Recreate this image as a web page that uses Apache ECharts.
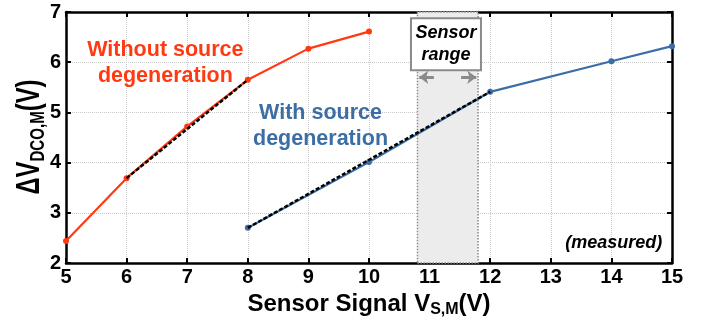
<!DOCTYPE html>
<html>
<head>
<meta charset="utf-8">
<script src="https://cdn.jsdelivr.net/npm/echarts@6/dist/echarts.min.js"></script>
<style>
  html, body { margin: 0; padding: 0; background: #fff; }
  #chart { width: 711px; height: 326px; }
</style>
</head>
<body>
<div id="chart"></div>
<script>
// Measured DCO output swing vs. sensor signal
const xTicks = [5, 6, 7, 8, 9, 10, 11, 12, 13, 14, 15];
const yTicks = [2, 3, 4, 5, 6, 7];

const withoutX = [5, 6, 7, 8, 9, 10];
const withoutY = [2.44, 3.69, 4.72, 5.65, 6.27, 6.61];

const withX = [8, 10, 12, 14, 15];
const withY = [2.70, 4.01, 5.41, 6.02, 6.32];

// linear-fit segments (dashed)
const fitWithoutX = [6, 8];
const fitWithoutY = [3.69, 5.65];
const fitWithX = [8, 12];
const fitWithY = [2.70, 5.41];

// sensor operating range on the x axis
const sensorRange = [10.8, 11.8];
const rangeArrowY = 5.70;

const RED = '#ff3a12';
const BLUE = '#3b6ea6';
const FONT = '"Liberation Sans", Arial, sans-serif';

const pairs = (xs, ys) => xs.map((x, i) => [x, ys[i]]);

const chart = echarts.init(document.getElementById('chart'), null, { renderer: 'canvas' });

const tickStyle = { inside: true, length: 5, lineStyle: { color: '#000', width: 2 } };
const lineStyleAxis = { lineStyle: { color: '#000', width: 2.5 } };
const gridLines = { show: true, lineStyle: { color: '#c8c8c8', type: 'dotted', width: 1 } };

chart.setOption({
  animation: false,
  backgroundColor: '#fff',
  grid: { left: 66, right: 39, top: 12, bottom: 63 },
  xAxis: [{
    type: 'value',
    min: xTicks[0], max: xTicks[xTicks.length - 1], interval: 1,
    name: 'Sensor Signal V{sub|S,M}(V)',
    nameLocation: 'middle',
    nameGap: 26,
    nameTextStyle: {
      fontFamily: FONT, fontWeight: 'bold', fontSize: 24, color: '#000',
      rich: { sub: { fontFamily: FONT, fontWeight: 'bold', fontSize: 16, color: '#000', verticalAlign: 'bottom', padding: [12, 0, 0, 0] } }
    },
    axisLine: lineStyleAxis,
    axisTick: tickStyle,
    axisLabel: { fontFamily: FONT, fontWeight: 'bold', fontSize: 20, color: '#000', margin: 4 },
    splitLine: gridLines
  }, {
    type: 'value', position: 'top',
    min: xTicks[0], max: xTicks[xTicks.length - 1], interval: 1,
    axisLine: lineStyleAxis,
    axisTick: tickStyle,
    axisLabel: { show: false },
    splitLine: { show: false }
  }],
  yAxis: [{
    type: 'value',
    min: yTicks[0], max: yTicks[yTicks.length - 1], interval: 1,
    axisLine: lineStyleAxis,
    axisTick: tickStyle,
    axisLabel: { fontFamily: FONT, fontWeight: 'bold', fontSize: 20, color: '#000', margin: 5 },
    splitLine: gridLines
  }, {
    type: 'value', position: 'right',
    min: yTicks[0], max: yTicks[yTicks.length - 1], interval: 1,
    axisLine: lineStyleAxis,
    axisTick: tickStyle,
    axisLabel: { show: false },
    splitLine: { show: false }
  }],
  // y-axis title: tall, narrow lettering
  graphic: [{
    type: 'text',
    x: 30, y: 137,
    rotation: Math.PI / 2,
    scaleX: 0.72,
    style: {
      text: 'ΔV{sub|DCO,M}(V)',
      align: 'center', verticalAlign: 'middle',
      fontFamily: FONT, fontWeight: 'bold', fontSize: 33, fill: '#000',
      rich: { sub: { fontFamily: FONT, fontWeight: 'bold', fontSize: 21, fill: '#000', verticalAlign: 'bottom', padding: [16, 0, 0, 0] } }
    }
  }],
  series: [
    {
      name: 'range',
      type: 'line',
      data: [],
      silent: true,
      markArea: {
        silent: true,
        itemStyle: { color: '#ececec', borderColor: '#8a8a8a', borderType: 'dotted', borderWidth: 1.5 },
        data: [[{ xAxis: sensorRange[0] }, { xAxis: sensorRange[1] }]]
      },
      markLine: {
        silent: true,
        symbol: ['none', 'arrow'],
        symbolSize: [10, 9],
        label: { show: false },
        lineStyle: { color: '#8a8a8a', type: 'solid', width: 3 },
        data: [
          [{ coord: [11.07, rangeArrowY] }, { coord: [sensorRange[0] + 0.03, rangeArrowY] }],
          [{ coord: [11.52, rangeArrowY] }, { coord: [sensorRange[1] - 0.03, rangeArrowY] }]
        ]
      },
      z: 1
    },
    {
      name: 'Without source degeneration',
      type: 'line',
      data: pairs(withoutX, withoutY),
      symbol: 'circle', symbolSize: 6,
      lineStyle: { color: RED, width: 2.2 },
      itemStyle: { color: RED },
      z: 3
    },
    {
      name: 'With source degeneration',
      type: 'line',
      data: pairs(withX, withY),
      symbol: 'circle', symbolSize: 6,
      lineStyle: { color: BLUE, width: 2.2 },
      itemStyle: { color: BLUE },
      z: 3
    },
    {
      type: 'line',
      data: pairs(fitWithoutX, fitWithoutY),
      symbol: 'none',
      lineStyle: { color: '#000', type: [4, 2], width: 2.5 },
      z: 4
    },
    {
      type: 'line',
      data: pairs(fitWithX, fitWithY),
      symbol: 'none',
      lineStyle: { color: '#000', type: [4, 2], width: 2.5 },
      z: 4
    },
    {
      // text annotations anchored at data coordinates
      type: 'scatter',
      symbolSize: 0,
      silent: true,
      itemStyle: { opacity: 1 },
      z: 6,
      data: [
        {
          value: [6.64, 5.99],
          label: {
            show: true, position: 'inside', formatter: 'Without source\ndegeneration',
            fontFamily: FONT, fontWeight: 'bold', fontSize: 21.5, lineHeight: 26, color: RED, align: 'center'
          }
        },
        {
          value: [9.20, 4.73],
          label: {
            show: true, position: 'inside', formatter: 'With source\ndegeneration',
            fontFamily: FONT, fontWeight: 'bold', fontSize: 21.5, lineHeight: 26, color: BLUE, align: 'center'
          }
        },
        {
          value: [14.04, 2.40],
          label: {
            show: true, position: 'inside', formatter: '(measured)',
            fontFamily: FONT, fontWeight: 'bold', fontStyle: 'italic', fontSize: 18, color: '#000'
          }
        },
        {
          value: [11.27, 6.36],
          label: {
            show: true, position: 'inside', formatter: 'Sensor\nrange',
            fontFamily: FONT, fontWeight: 'bold', fontStyle: 'italic', fontSize: 18, lineHeight: 22, color: '#000',
            align: 'center',
            backgroundColor: '#fff', borderColor: '#8a8a8a', borderWidth: 2,
            width: 66, padding: [3, 1, 3, 1]
          }
        }
      ]
    }
  ]
});
</script>
</body>
</html>
